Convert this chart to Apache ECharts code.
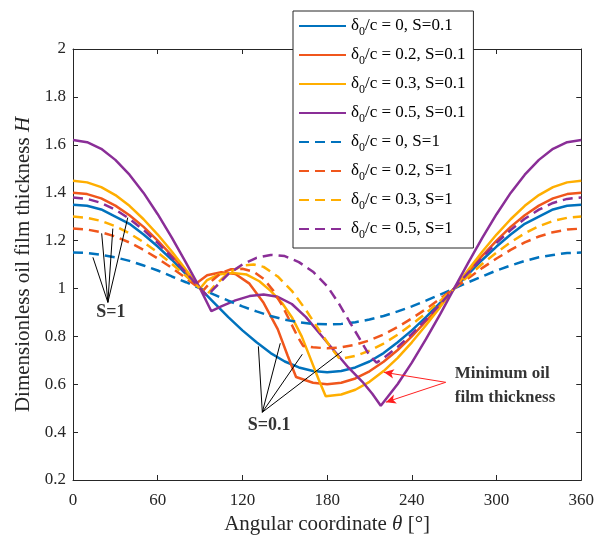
<!DOCTYPE html>
<html>
<head>
<meta charset="utf-8">
<script src="https://cdn.jsdelivr.net/npm/echarts@6/dist/echarts.min.js"></script>
<style>
  html, body { margin: 0; padding: 0; background: #fff; }
  #chart { width: 597px; height: 540px; }
</style>
</head>
<body>
<div id="chart"></div>
<script>
// Angular positions and film thickness H for each case ([theta, H] pairs)
const solidD0 = [[0,1.35],[10,1.345],[20,1.33],[30,1.30],[40,1.27],[50,1.225],[60,1.175],[70,1.12],[80,1.06],[90,1.0],[100,0.94],[110,0.88],[120,0.825],[130,0.775],[140,0.73],[150,0.695],[160,0.67],[170,0.655],[180,0.65],[190,0.655],[200,0.67],[210,0.695],[220,0.73],[230,0.775],[240,0.825],[250,0.88],[260,0.94],[270,1.0],[280,1.06],[290,1.12],[300,1.175],[310,1.225],[320,1.27],[330,1.30],[340,1.33],[350,1.345],[360,1.35]];
const solidD02 = [[0,1.40],[10,1.394],[20,1.376],[30,1.346],[40,1.306],[50,1.257],[60,1.20],[70,1.137],[80,1.07],[87,1.02],[95,1.055],[105,1.068],[115,1.06],[125,1.02],[135,0.94],[145,0.83],[152,0.72],[158,0.63],[170,0.606],[180,0.60],[190,0.606],[200,0.624],[210,0.654],[220,0.694],[230,0.743],[240,0.80],[250,0.863],[260,0.93],[270,1.0],[280,1.07],[290,1.137],[300,1.20],[310,1.257],[320,1.306],[330,1.346],[340,1.376],[350,1.394],[360,1.40]];
const solidD03 = [[0,1.45],[10,1.443],[20,1.423],[30,1.39],[40,1.345],[50,1.289],[60,1.225],[70,1.154],[80,1.078],[90,1.0],[95,1.035],[103,1.058],[113,1.065],[123,1.058],[132,1.03],[140,0.99],[148,0.94],[155,0.88],[162,0.80],[168,0.71],[174,0.62],[179,0.55],[190,0.557],[200,0.577],[210,0.61],[220,0.655],[230,0.71],[240,0.775],[250,0.846],[260,0.922],[270,1.0],[280,1.078],[290,1.154],[300,1.225],[310,1.289],[320,1.345],[330,1.39],[340,1.423],[350,1.443],[360,1.45]];
const solidD05 = [[0,1.62],[10,1.611],[20,1.583],[30,1.537],[40,1.475],[50,1.399],[60,1.31],[70,1.212],[80,1.108],[90,1.0],[98,0.905],[105,0.925],[115,0.95],[125,0.968],[135,0.975],[145,0.965],[155,0.935],[165,0.88],[175,0.81],[185,0.74],[195,0.67],[205,0.61],[212,0.56],[218,0.51],[230,0.601],[240,0.69],[250,0.788],[260,0.892],[270,1.0],[280,1.108],[290,1.212],[300,1.31],[310,1.399],[320,1.475],[330,1.537],[340,1.583],[350,1.611],[360,1.62]];
const dashD0 = [[0,1.15],[10,1.148],[20,1.14],[30,1.13],[40,1.115],[50,1.096],[60,1.075],[70,1.05],[80,1.026],[90,1.0],[100,0.974],[110,0.949],[120,0.925],[130,0.904],[140,0.885],[150,0.87],[160,0.859],[170,0.852],[180,0.85],[190,0.852],[200,0.859],[210,0.87],[220,0.885],[230,0.904],[240,0.925],[250,0.949],[260,0.974],[270,1.0],[280,1.026],[290,1.05],[300,1.075],[310,1.096],[320,1.115],[330,1.13],[340,1.14],[350,1.148],[360,1.15]];
const dashD02 = [[0,1.25],[10,1.246],[20,1.235],[30,1.217],[40,1.192],[50,1.161],[60,1.125],[70,1.086],[80,1.043],[92,0.99],[98,1.03],[105,1.065],[112,1.08],[120,1.082],[128,1.07],[135,1.04],[142,0.99],[148,0.93],[154,0.86],[159,0.80],[163,0.76],[170,0.754],[180,0.75],[190,0.754],[200,0.765],[210,0.783],[220,0.808],[230,0.839],[240,0.875],[250,0.914],[260,0.957],[270,1.0],[280,1.043],[290,1.086],[300,1.125],[310,1.161],[320,1.192],[330,1.217],[340,1.235],[350,1.246],[360,1.25]];
const dashD03 = [[0,1.30],[10,1.295],[20,1.282],[30,1.26],[40,1.23],[50,1.193],[60,1.15],[70,1.103],[80,1.052],[90,1.0],[95,0.975],[100,1.01],[110,1.065],[120,1.095],[128,1.10],[135,1.09],[145,1.05],[155,0.99],[165,0.91],[175,0.82],[183,0.75],[189,0.705],[200,0.718],[210,0.74],[220,0.77],[230,0.807],[240,0.85],[250,0.897],[260,0.948],[270,1.0],[280,1.052],[290,1.103],[300,1.15],[310,1.193],[320,1.23],[330,1.26],[340,1.282],[350,1.295],[360,1.30]];
const dashD05 = [[0,1.38],[10,1.374],[20,1.357],[30,1.329],[40,1.291],[50,1.244],[60,1.19],[70,1.13],[80,1.066],[90,1.0],[95,0.97],[100,1.0],[110,1.06],[120,1.10],[130,1.128],[140,1.14],[150,1.135],[160,1.11],[170,1.07],[180,1.01],[188,0.94],[195,0.87],[203,0.79],[210,0.72],[215,0.69],[220,0.709],[230,0.756],[240,0.81],[250,0.87],[260,0.934],[270,1.0],[280,1.066],[290,1.13],[300,1.19],[310,1.244],[320,1.291],[330,1.329],[340,1.357],[350,1.374],[360,1.38]];

// Legend parameters
const wearRatios = ['0', '0.2', '0.3', '0.5'];
const loadValues = ['0.1', '1'];

// Axis ticks
const xTicks = [0, 60, 120, 180, 240, 300, 360];
const yTicks = [0.2, 0.4, 0.6, 0.8, 1, 1.2, 1.4, 1.6, 1.8, 2];

// Annotation pointers (data coordinates)
const s1From = [24.7, 0.942];
const s1To = [[14.1, 1.13], [20.3, 1.23], [28.2, 1.25], [38.8, 1.296]];
const s01From = [134.1, 0.483];
const s01To = [[131.3, 0.758], [146.8, 0.771], [162.4, 0.725], [190.6, 0.7375]];
const minFrom = [264, 0.608];
const minTo = [[220.2, 0.65], [221.6, 0.525]];
const noteText = [
  { name: 'S=1', value: [26.8, 0.90], align: 'center' },
  { name: 'S=0.1', value: [139, 0.43], align: 'center' },
  { name: 'Minimum oil\nfilm thickness', value: [270.4, 0.596], align: 'left' }
];

const colors = ['#0072BD', '#F0561C', '#FFAE00', '#8A2E97'];
const FONT = '"Liberation Serif", "Times New Roman", serif';
const AX = '#262626';

const solidSets = [solidD0, solidD02, solidD03, solidD05];
const dashSets = [dashD0, dashD02, dashD03, dashD05];

const seriesList = [];
const legendNames = [];
loadValues.forEach((s, si) => {
  const sets = si === 0 ? solidSets : dashSets;
  wearRatios.forEach((d, di) => {
    const name = 'δ0/c = ' + d + ', S=' + s;
    legendNames.push(name);
    seriesList.push({
      name: name,
      type: 'line',
      data: sets[di],
      showSymbol: false,
      symbol: 'none',
      smooth: false,
      lineStyle: { color: colors[di], width: 2.5, type: si === 0 ? 'solid' : [10, 6] },
      itemStyle: { color: colors[di] },
      z: 3
    });
  });
});

const blackPairs = [];
s1To.forEach(p => blackPairs.push([{ coord: s1From }, { coord: p }]));
s01To.forEach(p => blackPairs.push([{ coord: s01From }, { coord: p }]));

seriesList.push({
  name: 'pointers',
  type: 'line',
  data: [],
  silent: true,
  markLine: {
    silent: true,
    symbol: ['none', 'none'],
    label: { show: false },
    lineStyle: { color: '#000', width: 1, type: 'solid' },
    data: blackPairs
  },
  z: 4
});
seriesList.push({
  name: 'arrows',
  type: 'line',
  data: [],
  silent: true,
  markLine: {
    silent: true,
    symbol: ['none', 'arrow'],
    symbolSize: [7, 10],
    label: { show: false },
    lineStyle: { color: '#FF2020', width: 1, type: 'solid' },
    data: minTo.map(p => [{ coord: minFrom }, { coord: p }])
  },
  z: 4
});
seriesList.push({
  name: 'notes',
  type: 'scatter',
  symbolSize: 0,
  silent: true,
  data: noteText.map(n => ({
    name: n.name,
    value: n.value,
    label: {
      show: true,
      position: 'inside',
      align: n.align,
      formatter: '{b}',
      fontFamily: FONT,
      fontWeight: 'bold',
      fontSize: n.align === 'left' ? 17 : 18,
      lineHeight: 24,
      color: '#000'
    }
  })),
  z: 5
});

const chart = echarts.init(document.getElementById('chart'), null, { renderer: 'canvas' });
chart.setOption({
  animation: false,
  backgroundColor: '#fff',
  grid: { left: 73, right: 14, top: 49, bottom: 60, containLabel: false },
  legend: {
    data: legendNames,
    orient: 'vertical',
    left: 293,
    top: 11,
    itemWidth: 47,
    itemHeight: 14,
    itemGap: 5,
    padding: [3, 8, 7, 5],
    backgroundColor: '#fff',
    borderColor: AX,
    borderWidth: 1,
    borderRadius: 0,
    selectedMode: false,
    itemStyle: { opacity: 0, borderWidth: 0 },
    formatter: function (name) {
      const rest = name.replace('δ0', '');
      return '{t|δ}{s|0}{t|' + rest + '}';
    },
    textStyle: {
      rich: {
        t: { fontFamily: FONT, fontSize: 17, color: '#000', lineHeight: 14 },
        s: { fontFamily: FONT, fontSize: 12, color: '#000', padding: [12, 0, 0, 0], lineHeight: 14 }
      }
    },
    z: 10
  },
  xAxis: [{
    type: 'value',
    min: 0, max: 360, interval: 60,
    position: 'bottom',
    name: '{n|Angular coordinate }{i|θ}{n| [°]}',
    nameLocation: 'middle',
    nameGap: 32,
    nameTextStyle: {
      rich: {
        n: { fontFamily: FONT, fontSize: 21, color: AX },
        i: { fontFamily: FONT, fontSize: 21, color: AX, fontStyle: 'italic' }
      }
    },
    axisLine: { show: true, onZero: false, lineStyle: { color: AX, width: 1 } },
    axisTick: { show: true, inside: true, length: 5, lineStyle: { color: AX } },
    axisLabel: { fontFamily: FONT, fontSize: 17, color: AX, margin: 12,
      formatter: v => xTicks.includes(v) ? String(v) : '' },
    splitLine: { show: false }
  }, {
    type: 'value',
    min: 0, max: 360, interval: 60,
    position: 'top',
    axisLine: { show: true, onZero: false, lineStyle: { color: AX, width: 1 } },
    axisTick: { show: true, inside: true, length: 5, lineStyle: { color: AX } },
    axisLabel: { show: false },
    splitLine: { show: false }
  }],
  yAxis: [{
    type: 'value',
    min: 0.2, max: 2, interval: 0.2,
    position: 'left',
    name: '{n|Dimensionless oil film thickness }{i|H}',
    nameLocation: 'middle',
    nameGap: 36,
    nameTextStyle: {
      rich: {
        n: { fontFamily: FONT, fontSize: 21, color: AX },
        i: { fontFamily: FONT, fontSize: 21, color: AX, fontStyle: 'italic' }
      }
    },
    axisLine: { show: true, onZero: false, lineStyle: { color: AX, width: 1 } },
    axisTick: { show: true, inside: true, length: 5, lineStyle: { color: AX } },
    axisLabel: { fontFamily: FONT, fontSize: 17, color: AX, margin: 7,
      formatter: v => {
        const r = Math.round(v * 10) / 10;
        return yTicks.some(t => Math.abs(t - r) < 1e-9) ? String(r) : '';
      } },
    splitLine: { show: false }
  }, {
    type: 'value',
    min: 0.2, max: 2, interval: 0.2,
    position: 'right',
    axisLine: { show: true, onZero: false, lineStyle: { color: AX, width: 1 } },
    axisTick: { show: true, inside: true, length: 5, lineStyle: { color: AX } },
    axisLabel: { show: false },
    splitLine: { show: false }
  }],
  series: seriesList
});
</script>
</body>
</html>
